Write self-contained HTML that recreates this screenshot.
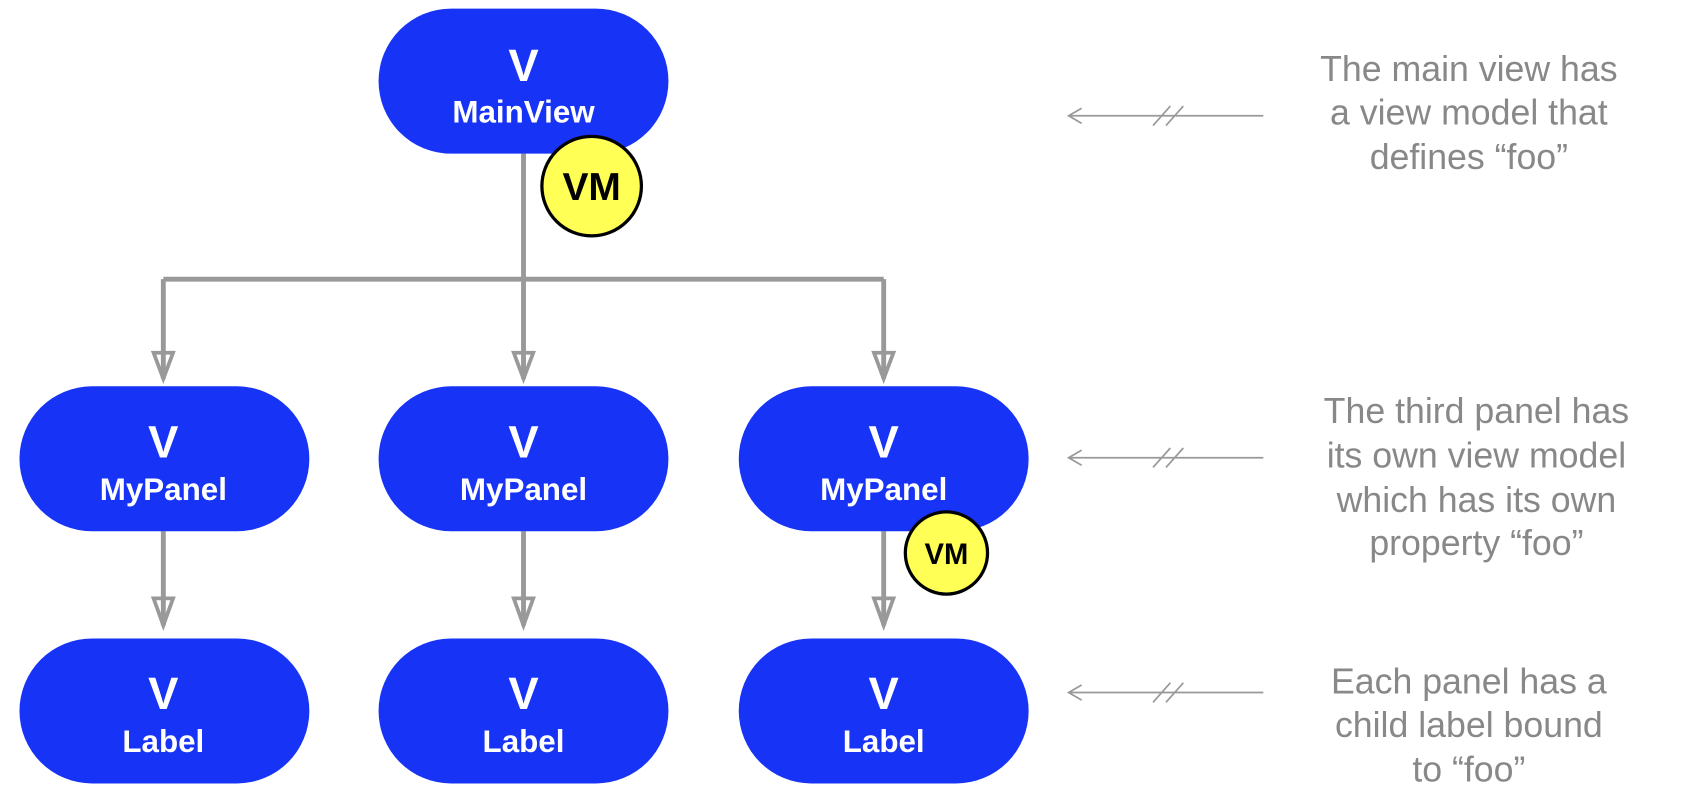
<!DOCTYPE html>
<html><head><style>html,body{margin:0;padding:0;background:#fff;}svg{display:block}</style></head><body>
<svg width="1696" height="804" viewBox="0 0 1568 743" xmlns="http://www.w3.org/2000/svg" preserveAspectRatio="none">
<g stroke="#999" stroke-width="4.5" fill="none">
<line x1="484" y1="142" x2="484" y2="258"/>
<line x1="151" y1="258" x2="817" y2="258"/>
<line x1="151" y1="258" x2="151" y2="350"/>
<line x1="484" y1="258" x2="484" y2="350"/>
<line x1="817" y1="258" x2="817" y2="350"/>
<line x1="151" y1="491" x2="151" y2="578"/>
<line x1="484" y1="491" x2="484" y2="578"/>
<line x1="817" y1="491" x2="817" y2="578"/>
<g stroke-width="3.5" stroke-linejoin="miter">
<path d="M142 326 L151 350 L160 326 Z"/>
<path d="M475 326 L484 350 L493 326 Z"/>
<path d="M808 326 L817 350 L826 326 Z"/>
<path d="M142 553 L151 578 L160 553 Z"/>
<path d="M475 553 L484 578 L493 553 Z"/>
<path d="M808 553 L817 578 L826 553 Z"/>
</g>
</g>
<g fill="#1733f5">
<rect x="350" y="8" width="268" height="134" rx="67"/>
<rect x="18" y="357" width="268" height="134" rx="67"/>
<rect x="350" y="357" width="268" height="134" rx="67"/>
<rect x="683" y="357" width="268" height="134" rx="67"/>
<rect x="18" y="590" width="268" height="134" rx="67"/>
<rect x="350" y="590" width="268" height="134" rx="67"/>
<rect x="683" y="590" width="268" height="134" rx="67"/>
</g>
<g fill="#fff" font-family="Liberation Sans, sans-serif" font-weight="bold" text-anchor="middle">
<text x="484" y="75" font-size="42">V</text><text x="484" y="113" font-size="29">MainView</text>
<text x="151" y="423" font-size="42">V</text><text x="151" y="462" font-size="29">MyPanel</text>
<text x="484" y="423" font-size="42">V</text><text x="484" y="462" font-size="29">MyPanel</text>
<text x="817" y="423" font-size="42">V</text><text x="817" y="462" font-size="29">MyPanel</text>
<text x="151" y="655" font-size="42">V</text><text x="151" y="695" font-size="29">Label</text>
<text x="484" y="655" font-size="42">V</text><text x="484" y="695" font-size="29">Label</text>
<text x="817" y="655" font-size="42">V</text><text x="817" y="695" font-size="29">Label</text>
</g>
<circle cx="547" cy="172" r="46" fill="#ffff55" stroke="#000" stroke-width="3"/>
<text x="547" y="185" font-family="Liberation Sans, sans-serif" font-weight="bold" font-size="36" text-anchor="middle">VM</text>
<circle cx="875" cy="511" r="38" fill="#ffff55" stroke="#000" stroke-width="3"/>
<text x="875" y="521" font-family="Liberation Sans, sans-serif" font-weight="bold" font-size="27" text-anchor="middle">VM</text>
<g stroke="#999" stroke-width="1.6" fill="none">
<path d="M1168 107 H988 M1000 100 L988 107 L1000 114 M1066 116 L1082 98 M1078 116 L1094 98"/>
<path d="M1168 423 H988 M1000 416 L988 423 L1000 430 M1066 432 L1082 414 M1078 432 L1094 414"/>
<path d="M1168 640 H988 M1000 633 L988 640 L1000 647 M1066 649 L1082 631 M1078 649 L1094 631"/>
</g>
<g fill="#888" font-family="Liberation Sans, sans-serif" font-size="33" text-anchor="middle">
<text x="1358" y="75">The main view has</text>
<text x="1358" y="115">a view model that</text>
<text x="1358" y="156">defines  “foo”</text>
<text x="1365" y="391">The third panel has</text>
<text x="1365" y="432">its own view model</text>
<text x="1365" y="473">which has its own</text>
<text x="1365" y="513">property “foo”</text>
<text x="1358" y="641">Each panel has a</text>
<text x="1358" y="681">child label bound</text>
<text x="1358" y="722">to “foo”</text>
</g>
</svg>
</body></html>
